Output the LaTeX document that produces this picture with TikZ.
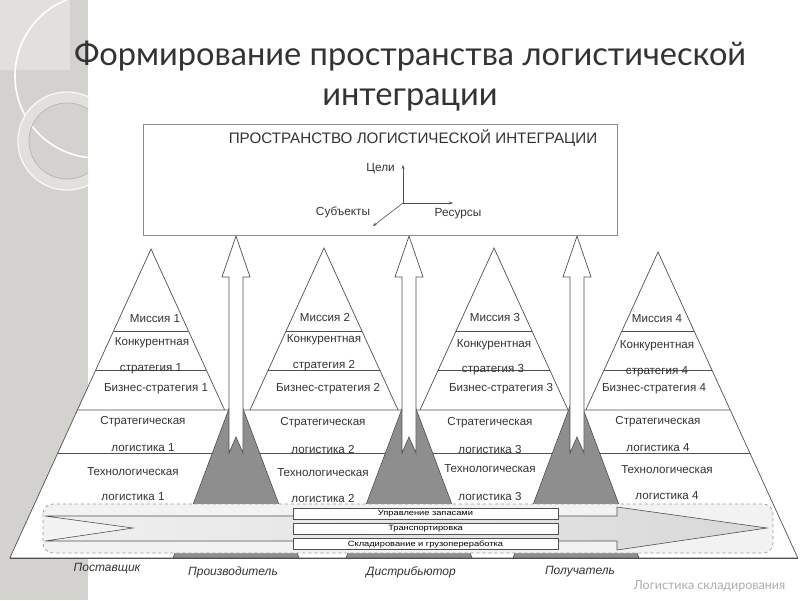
\documentclass[tikz,border=0pt]{standalone}
\usepackage{fontspec}
\setmainfont{Liberation Sans}
\newfontfamily\titlefont{Lato}
\usetikzlibrary{arrows.meta}
\definecolor{panelc}{HTML}{D4D2CE}
\definecolor{panell}{HTML}{E1E0DC}
\definecolor{linec}{HTML}{505050}
\definecolor{txt}{HTML}{333333}
\definecolor{grayfill}{HTML}{8E8E8E}
\definecolor{bandc}{HTML}{F2F2F2}
\begin{document}
\begin{tikzpicture}[x=1pt,y=-1pt,
  lbl/.style={font=\fontsize{11.6}{13}\selectfont, text=txt, inner sep=0pt},
  pline/.style={draw=linec, line width=0.7pt},
  uparrow/.style={draw=linec, fill=white, line width=0.7pt},
  overlap/.style={draw=linec, fill=grayfill, line width=0.6pt},
  tinytxt/.style={font=\fontsize{7.6}{9}\selectfont\addfontfeature{FakeStretch=1.22}, text=black, inner sep=0pt},
  rbox/.style={draw=linec, fill=white, line width=0.6pt},
  actor/.style={font=\itshape\fontsize{12}{14}\selectfont, text=txt, inner sep=0pt},
  axisline/.style={draw=linec, line width=0.6pt, -{Stealth[length=4pt,width=3pt]}},
  axlbl/.style={font=\fontsize{11.8}{13}\selectfont, text=txt, inner sep=0pt},
  titletxt/.style={font=\titlefont\fontsize{32.6}{38}\selectfont, text=txt, inner sep=0pt, anchor=base}
]
\useasboundingbox (0,0) rectangle (800,600);
\fill[white] (0,0) rectangle (800,600);
% decorative panel
\fill[panelc] (0,0) rectangle (88,600);
\fill[panell] (0,0) rectangle (70,70);
\begin{scope}
  \clip (0,0) rectangle (88,600);
  \draw[white, line width=1.6pt] (97,76) circle[radius=82];
  \draw[panell, line width=10pt] (67,141) circle[radius=43.5];
  \draw[white!90!panelc, line width=1.2pt] (67,141) circle[radius=49];
  \draw[panelc!85!black, line width=0.6pt] (67,141) circle[radius=38];
\end{scope}
% title
\node[titletxt] (title1) at (410,65) {Формирование пространства логистической};
\node[titletxt] (title2) at (410,105) {интеграции};
% white pyramid area
\foreach \ax/\ay in {151/249,324/248,494/248,658/252} {
  \fill[white] (\ax,\ay) -- ({\ax+0.457*(410-\ay)},410) -- ({\ax-0.457*(410-\ay)},410) -- cycle;
}
\fill[white] (77.4,410) -- (730.2,410) -- (797.8,558) -- (9.8,558) -- cycle;
% pyramid lines
\foreach \ax/\ay in {151/249,324/248,494/248,658/252} {
  \draw[pline] ({\ax-0.457*(410-\ay)},410) -- (\ax,\ay) -- ({\ax+0.457*(410-\ay)},410);
  \draw[pline] ({\ax-0.457*(331-\ay)},331) -- ({\ax+0.457*(331-\ay)},331);
  \draw[pline] ({\ax-0.457*(370-\ay)},370) -- ({\ax+0.457*(370-\ay)},370);
}
\draw[pline] (77.4,410) -- (9.8,558) -- (797.8,558) -- (730.2,410) -- cycle;
\draw[pline] (57.8,453) -- (749.9,453);
% overlap triangles
\foreach \c in {236,409,576} {
  \draw[overlap] (\c,390) -- ({\c+63},558) -- ({\c-63},558) -- cycle;
}
% up arrows
\foreach \c in {236,409,577} {
  \draw[uparrow] (\c,236) -- ({\c+14},277) -- ({\c+7},277) -- ({\c+7},453) -- (\c,437)
    -- ({\c-7},453) -- ({\c-7},277) -- ({\c-14},277) -- cycle;
}
% dashed band
\draw[draw=gray!80, fill=bandc, dashed, line width=0.7pt, rounded corners=10pt] (43,504) rectangle (773,553);
\shade[left color=gray!12, right color=gray!30, draw=linec, line width=0.6pt]
  (45,516) -- (617,516) -- (617,507) -- (767,528) -- (617,550) -- (617,541) -- (45,541) -- (133,528) -- cycle;
\draw[pline] (9.8,558) -- (797.8,558);
% function boxes
\node[rbox, minimum width=265pt, minimum height=11pt, inner sep=0pt] (f1) at (425.5,513.5) {};
\node[rbox, minimum width=265pt, minimum height=11pt, inner sep=0pt] (f2) at (425.5,528.5) {};
\node[rbox, minimum width=265pt, minimum height=11pt, inner sep=0pt] (f3) at (425.5,544) {};
\node[tinytxt] at (f1) {Управление запасами};
\node[tinytxt] at (f2) {Транспортировка};
\node[tinytxt] at (f3) {Складирование и грузопереработка};
% pyramid labels
\node[lbl] (m1) at (155,319) {Миссия 1};
\node[lbl] (k1) at (152,343) {Конкурентная};
\node[lbl] (s1) at (151,369) {стратегия 1};
\node[lbl] (b1) at (156,389) {Бизнес-стратегия 1};
\node[lbl] (sl1a) at (143,422) {Стратегическая};
\node[lbl] (sl1b) at (143,448) {логистика 1};
\node[lbl] (tl1a) at (133,472) {Технологическая};
\node[lbl] (tl1b) at (133,497) {логистика 1};
\node[lbl] (m2) at (325,318) {Миссия 2};
\node[lbl] (k2) at (324,340) {Конкурентная};
\node[lbl] (s2) at (324,366) {стратегия 2};
\node[lbl] (b2) at (328,389) {Бизнес-стратегия 2};
\node[lbl] (sl2a) at (323,423) {Стратегическая};
\node[lbl] (sl2b) at (323,449) {логистика 2};
\node[lbl] (tl2a) at (323,473) {Технологическая};
\node[lbl] (tl2b) at (323,498) {логистика 2};
\node[lbl] (m3) at (495,318) {Миссия 3};
\node[lbl] (k3) at (494,345) {Конкурентная};
\node[lbl] (s3) at (493,370) {стратегия 3};
\node[lbl] (b3) at (501,389) {Бизнес-стратегия 3};
\node[lbl] (sl3a) at (490,423) {Стратегическая};
\node[lbl] (sl3b) at (490,449) {логистика 3};
\node[lbl] (tl3a) at (490,469) {Технологическая};
\node[lbl] (tl3b) at (490,496) {логистика 3};
\node[lbl] (m4) at (657,319) {Миссия 4};
\node[lbl] (k4) at (657,346) {Конкурентная};
\node[lbl] (s4) at (657,372) {стратегия 4};
\node[lbl] (b4) at (654,389) {Бизнес-стратегия 4};
\node[lbl] (sl4a) at (658,422) {Стратегическая};
\node[lbl] (sl4b) at (658,448) {логистика 4};
\node[lbl] (tl4a) at (667,470) {Технологическая};
\node[lbl] (tl4b) at (667,496) {логистика 4};
% actors
\node[actor] (a1) at (107,569) {Поставщик};
\node[actor] (a2) at (233,572) {Производитель};
\node[actor] (a3) at (411,572) {Дистрибьютор};
\node[actor] (a4) at (580,572) {Получатель};
% top box
\node[draw=gray!90, fill=white, line width=0.8pt, minimum width=474pt, minimum height=111pt, inner sep=0pt] (topbox) at (380,179.5) {};
\node[font=\fontsize{15.2}{17}\selectfont, text=txt, inner sep=0pt] (head) at (413,138) {ПРОСТРАНСТВО ЛОГИСТИЧЕСКОЙ ИНТЕГРАЦИИ};
\coordinate (o) at (403,203);
\coordinate (zg) at (403,165);
\coordinate (zr) at (453,203);
\coordinate (zs) at (373,226);
\draw[axisline] (o) -- (zg);
\draw[axisline] (o) -- (zr);
\draw[axisline] (o) -- (zs);
\node[axlbl, anchor=east] (lg) at (395,169) {Цели};
\node[axlbl] (lr) at (458,214) {Ресурсы};
\node[axlbl] (ls) at (343,212) {Субъекты};
% footer
\node[font=\titlefont\fontsize{12.5}{14}\selectfont, text=gray!65] (foot) at (709.5,586) {Логистика складирования};
\end{tikzpicture}
\end{document}
